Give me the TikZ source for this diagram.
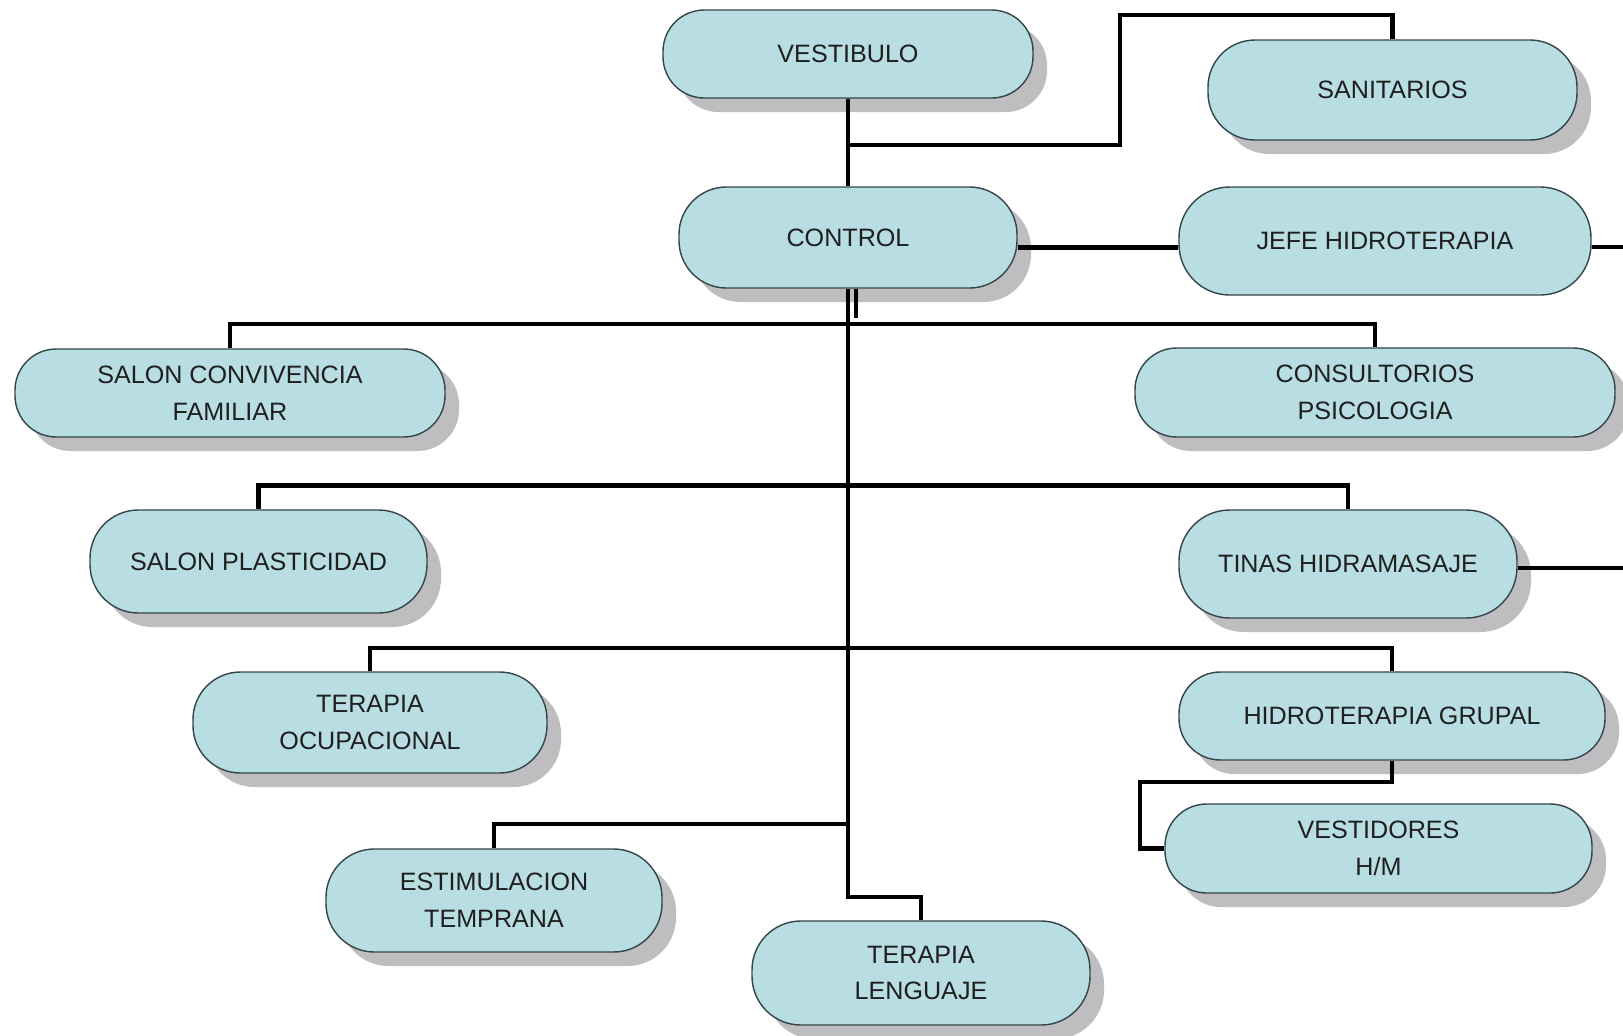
\documentclass[tikz,border=0pt]{standalone}
\usepackage{fontspec}
\setmainfont{Liberation Sans}
\usetikzlibrary{shadows}
\definecolor{azulcaja}{RGB}{184,222,228}
\definecolor{bordecaja}{RGB}{52,70,72}
\definecolor{sombra}{RGB}{190,190,192}

\begin{document}
\begin{tikzpicture}[
    caja/.style n args={2}{draw=bordecaja,line width=0.8pt,fill=azulcaja,
        minimum width=#1cm,minimum height=#2cm,rounded corners=0.47*#2cm,
        align=center,inner sep=0pt,text=black!88,
        font=\fontsize{14.3}{21}\selectfont},
    sombreada/.style={drop shadow={shadow xshift=0.28cm,shadow yshift=-0.28cm,
        fill=sombra,opacity=1}},
    linea/.style={line width=2.6pt,black}
]

    % Fondo y marco del dibujo
    \fill[white] (0,0) rectangle (32.46,-20.72);
    \useasboundingbox (0,0) rectangle (32.46,-20.72);

    % Cajas de la parte superior
    \node[caja={7.40}{1.76},sombreada] (ves) at (16.96,-1.08) {VESTIBULO};
    \node[caja={7.38}{2.00},sombreada] (san) at (27.85,-1.80) {SANITARIOS};
    \node[caja={6.76}{2.02},sombreada] (ctl) at (16.96,-4.75) {CONTROL};
    \node[caja={8.24}{2.16}] (jefe) at (27.70,-4.82) {JEFE HIDROTERAPIA};

    % Cajas del lado izquierdo
    \node[caja={8.60}{1.76},sombreada] (scf) at (4.60,-7.86) {SALON CONVIVENCIA\\FAMILIAR};
    \node[caja={6.74}{2.06},sombreada] (spl) at (5.17,-11.23) {SALON PLASTICIDAD};
    \node[caja={7.08}{2.02},sombreada] (toc) at (7.40,-14.45) {TERAPIA\\OCUPACIONAL};
    \node[caja={6.72}{2.06},sombreada] (est) at (9.88,-18.01) {ESTIMULACION\\TEMPRANA};
    \node[caja={6.76}{2.08},sombreada] (tle) at (18.42,-19.46) {TERAPIA\\LENGUAJE};

    % Cajas del lado derecho
    \node[caja={9.60}{1.78},sombreada] (cps) at (27.50,-7.85) {CONSULTORIOS\\PSICOLOGIA};
    \node[caja={6.76}{2.16},sombreada] (tin) at (26.96,-11.28) {TINAS HIDRAMASAJE};
    \node[caja={8.52}{1.76},sombreada] (hgr) at (27.84,-14.32) {HIDROTERAPIA GRUPAL};
    \node[caja={8.54}{1.78},sombreada] (vst) at (27.57,-16.97) {VESTIDORES\\H/M};

    % Puntos de union sobre el eje central
    \coordinate (b0) at (16.96,-2.90);
    \coordinate (b1) at (16.96,-6.48);
    \coordinate (b2) at (16.96,-9.71);
    \coordinate (b3) at (16.96,-12.96);
    \coordinate (b4) at (16.96,-16.48);
    \coordinate (b5) at (16.96,-17.94);
    \coordinate (dA) at (32.46,-4.94);
    \coordinate (dB) at (32.46,-11.36);

    % Eje central y ramas
    \draw[linea] (ves.south) -- (ctl.north);
    \draw[linea] (b0) -| (22.40,-0.30) -| (san.north);
    \draw[linea] ([yshift=-0.2cm]ctl.east) -- ([yshift=-0.2cm]ctl.east -| jefe.west);
    \draw[linea] (jefe.east |- dA) -- (dA);
    \draw[linea] (ctl.south) -- (b5) -| (tle.north);
    \draw[line width=2pt] ([xshift=0.16cm]ctl.south) -- ++(0,-0.58);
    \draw[linea] (scf.north) |- (b1) -| (cps.north);
    \draw[linea] (spl.north) |- (b2) -| (tin.north);
    \draw[linea] (tin.east |- dB) -- (dB);
    \draw[linea] (toc.north) |- (b3) -| (hgr.north);
    \draw[linea] (est.north) |- (b4);
    \draw[linea] (hgr.south) |- (22.80,-15.64) |- (vst.west);

\end{tikzpicture}
\end{document}
